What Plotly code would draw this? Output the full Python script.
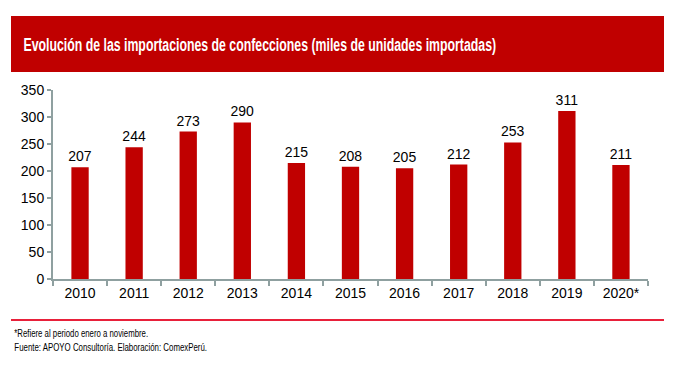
import plotly.graph_objects as go

years = ["2010", "2011", "2012", "2013", "2014", "2015", "2016", "2017", "2018", "2019", "2020*"]
values = [207, 244, 273, 290, 215, 208, 205, 212, 253, 311, 211]
title_text = "Evolución de las importaciones de confecciones (miles de unidades importadas)"
note1 = "*Refiere al periodo enero a noviembre."
note2 = "Fuente: APOYO Consultoría. Elaboración: ComexPerú."

W, H = 678, 367
L, R, T, B = 53, 30, 90, 88
pw = W - L - R
ph = H - T - B

def px_x(x):
    return (x - L) / pw

def px_y(y):
    return (H - B - y) / ph

RED = "#C00000"
AXIS = "#8FA0A0"
FONT = "Liberation Sans, Arial"

fig = go.Figure()
fig.add_trace(go.Bar(
    x=years, y=values, marker=dict(color=RED, line=dict(width=0)),
    text=[str(v) for v in values], textposition="outside", cliponaxis=False,
    constraintext="none",
    textfont=dict(family=FONT, size=14, color="#000000"),
))

fig.update_layout(
    width=W, height=H,
    margin=dict(l=L, r=R, t=T, b=B),
    paper_bgcolor="white", plot_bgcolor="white",
    bargap=0.68, showlegend=False,
    font=dict(family=FONT, size=14, color="#000000"),
    xaxis=dict(showline=True, linecolor=AXIS, linewidth=2, ticks="outside",
               tickson="boundaries", tickcolor=AXIS, ticklen=5, tickwidth=2,
               showgrid=False, tickfont=dict(size=14)),
    yaxis=dict(range=[0, 350], dtick=50, showline=True, linecolor=AXIS, linewidth=2,
               ticks="outside", tickcolor=AXIS, ticklen=4, tickwidth=2,
               showgrid=False, zeroline=False, tickfont=dict(size=14)),
    shapes=[
        dict(type="rect", xref="paper", yref="paper",
             x0=px_x(11), x1=px_x(664), y0=px_y(72), y1=px_y(16),
             fillcolor=RED, line=dict(width=0), layer="below"),
        dict(type="line", xref="paper", yref="paper",
             x0=px_x(11), x1=px_x(664), y0=px_y(320), y1=px_y(320),
             line=dict(color="#E8203A", width=2)),
    ],
    annotations=[
        dict(text="<b>" + title_text + "</b>", xref="paper", yref="paper",
             x=px_x(259.5), y=px_y(45), xanchor="center", yanchor="middle", showarrow=False,
             font=dict(family=FONT, size=19, color="white")),
        dict(text=note1, xref="paper", yref="paper", x=px_x(14 + 134 / 2), y=px_y(333),
             xanchor="center", yanchor="middle", showarrow=False,
             font=dict(family=FONT, size=10.5, color="#000000")),
        dict(text=note2, xref="paper", yref="paper", x=px_x(14 + 193 / 2), y=px_y(347),
             xanchor="center", yanchor="middle", showarrow=False,
             font=dict(family=FONT, size=10.5, color="#000000")),
    ],
)

post = """
document.body.style.margin = '0';
var gd = document.getElementById('{plot_id}');
var widths = {0: 473, 1: 134, 2: 193};
function condense() {
  Object.keys(widths).forEach(function (k) {
    var g = gd.querySelector('g.annotation[data-index="' + k + '"]');
    if (!g) return;
    var t = g.querySelector('text.annotation-text');
    if (!t) return;
    t.removeAttribute('transform');
    var bb = t.getBBox();
    if (bb.width <= 0) return;
    var sx = widths[k] / bb.width;
    var cx = bb.x + bb.width / 2;
    t.setAttribute('transform', 'translate(' + cx + ',0) scale(' + sx + ',1) translate(' + (-cx) + ',0)');
    g.querySelectorAll('rect').forEach(function (r) {
      var w = parseFloat(r.getAttribute('width'));
      var x = parseFloat(r.getAttribute('x')) || 0;
      if (w > widths[k]) {
        r.setAttribute('x', x + (w - widths[k]) / 2);
        r.setAttribute('width', widths[k]);
      }
    });
  });
}
condense();
gd.on('plotly_afterplot', condense);
"""

fig.write_html("out.html", post_script=post, config={"displayModeBar": False})
